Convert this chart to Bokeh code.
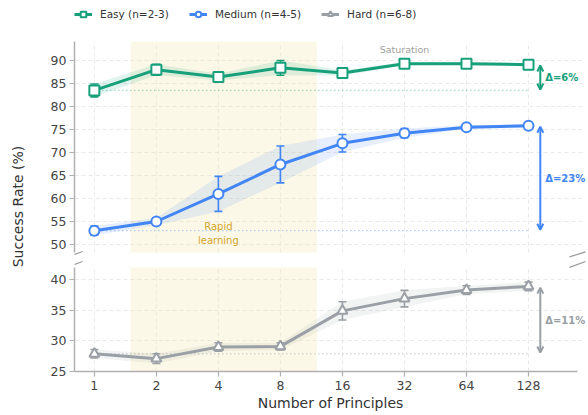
from bokeh.plotting import figure
from bokeh.models import (Range1d, FixedTicker, Legend, LegendItem, Label, Arrow,
                          OpenHead, BoxAnnotation)
from bokeh.layouts import row, column
from bokeh.embed import file_html
from bokeh.resources import INLINE

# ---------------- data ----------------
principles = [1, 2, 4, 8, 16, 32, 64, 128]
tick_labels = ["1", "2", "4", "8", "16", "32", "64", "128"]

easy = [83.5, 88.0, 86.4, 88.4, 87.3, 89.3, 89.3, 89.1]
easy_err = [1.4, 1.2, 0.7, 1.6, 0.6, 0.3, 0.3, 0.3]
medium = [53.0, 55.0, 61.0, 67.4, 72.0, 74.2, 75.5, 75.8]
medium_err = [1.0, 0.8, 3.8, 4.0, 1.9, 1.0, 0.4, 0.4]
hard = [27.9, 27.1, 29.0, 29.1, 34.9, 36.9, 38.3, 38.9]
hard_err = [0.7, 0.8, 0.7, 0.6, 1.5, 1.35, 0.7, 0.7]

series_names = ["Easy (n=2-3)", "Medium (n=4-5)", "Hard (n=6-8)"]
top_ticks = [50, 55, 60, 65, 70, 75, 80, 85, 90]
bottom_ticks = [25, 30, 35, 40]
rapid_span = (1.5, 12)

# ---------------- style ----------------
GREEN = "#17a07a"
BLUE = "#4285f4"
GRAY = "#9aa0a6"
GOLD = "#d4a52b"
FONT = "DejaVu Sans"
AXIS_C = "#b0b0b0"

X_LO, X_HI, X_AXIS_HI = 2 ** -0.32, 2 ** 7.935, 2 ** 7.79
x_range = Range1d(X_LO, X_HI)
W = 549
LBL_W = 37
LEG_H = 41
TOP_H = 218
BOT_H = 154
BORDER_L = 37

TOP_BOUNDS = (48.26, 94.13)     # visible part of the upper axis
TOP_VIEW = (46.74, 94.13)       # frame reaches into the break gap
BOT_BOUNDS = (25, 42)
BOT_VIEW = (25, 43.29)


def style(p, yticks, bounds):
    p.outline_line_color = None
    p.yaxis.ticker = FixedTicker(ticks=yticks)
    p.yaxis.bounds = bounds
    p.yaxis.axis_line_color = AXIS_C
    p.yaxis.axis_line_width = 1.5
    p.yaxis.major_tick_line_color = AXIS_C
    p.yaxis.major_tick_line_width = 1.2
    p.yaxis.major_tick_out = 5
    p.yaxis.major_tick_in = 0
    p.yaxis.minor_tick_line_color = None
    p.yaxis.major_label_text_font = FONT
    p.yaxis.major_label_text_font_size = "12.5px"
    p.yaxis.major_label_text_color = "#444444"
    p.yaxis.major_label_standoff = 3
    p.ygrid.ticker = FixedTicker(ticks=yticks)
    p.ygrid.grid_line_color = "#e3e3e3"
    p.ygrid.grid_line_dash = "4 3"
    p.ygrid.grid_line_width = 0.8
    p.xgrid.visible = False
    n = len(principles)
    # vertical grid lines, limited to the visible axis span
    p.segment(x0=principles, y0=[bounds[0]] * n, x1=principles, y1=[bounds[1]] * n,
              line_color="#e3e3e3", line_dash="4 3", line_width=0.8, level="underlay")
    p.add_layout(BoxAnnotation(left=rapid_span[0], right=rapid_span[1],
                               bottom=bounds[0], top=bounds[1],
                               fill_color="#f5e9b0", fill_alpha=0.3,
                               line_color=None, level="underlay"))


def draw_series(p, ys, errs, color, marker):
    lo = [y - e for y, e in zip(ys, errs)]
    hi = [y + e for y, e in zip(ys, errs)]
    p.varea(x=principles, y1=lo, y2=hi, fill_color=color, fill_alpha=0.13)
    p.line([principles[0], principles[-1]], [ys[0], ys[0]], line_color=color,
           line_dash="1 3", line_width=1.3, line_alpha=0.6)
    p.segment(x0=principles, y0=lo, x1=principles, y1=hi, line_color=color,
              line_width=1.6)
    p.scatter(x=principles + principles, y=lo + hi, marker="dash", size=8,
              line_color=color, line_width=1.6)
    p.line(principles, ys, line_color=color, line_width=3)
    p.scatter(principles, ys, marker=marker, size=10, line_color=color,
              line_width=2, fill_color="white")


def delta_arrow(p, ys, color):
    ax = 2 ** 7.19
    p.add_layout(Arrow(start=OpenHead(size=6, line_color=color, line_width=2),
                       end=OpenHead(size=6, line_color=color, line_width=2),
                       x_start=ax, y_start=ys[-1] - 0.2, x_end=ax, y_end=ys[0] + 0.2,
                       line_color=color, line_width=2))
    p.add_layout(Label(x=2 ** 7.27, y=(ys[-1] + ys[0]) / 2,
                       text="Δ=%d%%" % round(ys[-1] - ys[0]),
                       text_font=FONT, text_font_size="10px", text_font_style="bold",
                       text_color=color, text_align="left", text_baseline="middle"))


# ---------------- legend strip ----------------
leg = figure(width=W, height=LEG_H, x_range=Range1d(0, 1), y_range=Range1d(0, 1),
             x_axis_location=None, y_axis_location=None, toolbar_location=None,
             output_backend="svg", min_border_left=BORDER_L, min_border_right=0,
             min_border_top=0, min_border_bottom=0, outline_line_color=None)
leg.grid.visible = False
items = []
for name, color, marker in zip(series_names, [GREEN, BLUE, GRAY],
                               ["square", "circle", "triangle"]):
    ln = leg.line([-5, -4], [-5, -5], line_color=color, line_width=3)
    mk = leg.scatter([-5], [-5], marker=marker, size=10, line_color=color,
                     line_width=2, fill_color="white")
    items.append(LegendItem(label=name, renderers=[ln, mk]))
legend = Legend(items=items, orientation="horizontal", location=(0, 20),
                padding=0, margin=0, spacing=20, glyph_width=18, glyph_height=14,
                label_height=14, label_standoff=8, border_line_color=None,
                background_fill_alpha=0, label_text_font=FONT,
                label_text_font_size="10.5px", label_text_color="#333333")
leg.add_layout(legend)

# ---------------- top panel ----------------
top = figure(width=W, height=TOP_H, x_range=x_range, y_range=Range1d(*TOP_VIEW),
             x_axis_type="log", x_axis_location=None, toolbar_location=None,
             output_backend="svg", min_border_top=0, min_border_bottom=0,
             min_border_left=BORDER_L, min_border_right=0)
style(top, top_ticks, TOP_BOUNDS)
draw_series(top, easy, easy_err, GREEN, "square")
draw_series(top, medium, medium_err, BLUE, "circle")
delta_arrow(top, easy, GREEN)
delta_arrow(top, medium, BLUE)
top.add_layout(Label(x=principles[2], y=52.4, text="Rapid\nlearning", text_font=FONT,
                     text_font_size="10px", text_color=GOLD, text_align="center",
                     text_baseline="middle"))
top.add_layout(Label(x=principles[5], y=92.4, text="Saturation", text_font=FONT,
                     text_font_size="9.5px", text_color="#a0a0a0", text_align="center",
                     text_baseline="middle"))

# ---------------- bottom panel ----------------
bot = figure(width=W, height=BOT_H, x_range=x_range, y_range=Range1d(*BOT_VIEW),
             x_axis_type="log", toolbar_location=None, output_backend="svg",
             min_border_top=0, min_border_bottom=41, min_border_left=BORDER_L,
             min_border_right=0)
style(bot, bottom_ticks, BOT_BOUNDS)
draw_series(bot, hard, hard_err, GRAY, "triangle")
delta_arrow(bot, hard, GRAY)
bot.xaxis.ticker = FixedTicker(ticks=principles)
bot.xaxis.bounds = (X_LO, X_AXIS_HI)
bot.xaxis.major_label_overrides = {t: l for t, l in zip(principles, tick_labels)}
bot.xaxis.axis_line_color = AXIS_C
bot.xaxis.axis_line_width = 1.5
bot.xaxis.major_tick_line_color = AXIS_C
bot.xaxis.major_tick_line_width = 1.2
bot.xaxis.major_tick_out = 5
bot.xaxis.major_tick_in = 0
bot.xaxis.minor_tick_line_color = None
bot.xaxis.major_label_text_font = FONT
bot.xaxis.major_label_text_font_size = "12.5px"
bot.xaxis.major_label_text_color = "#444444"
bot.xaxis.major_label_standoff = 4
bot.xaxis.axis_label = "Number of Principles"
bot.xaxis.axis_label_text_font = FONT
bot.xaxis.axis_label_text_font_size = "14px"
bot.xaxis.axis_label_text_font_style = "normal"
bot.xaxis.axis_label_text_color = "#333333"
bot.xaxis.axis_label_standoff = 2


# ---------------- axis-break marks ----------------
def brk(p, x0, y0, x1, y1):
    p.add_layout(Arrow(start=None, end=None, x_start=x0, y_start=y0, x_end=x1,
                       y_end=y1, line_color="#9a9a9a", line_width=1.2))


xl0, xl1 = 2 ** -0.45, 2 ** -0.19
xr0, xr1 = 2 ** 7.66, 2 ** 7.92
brk(top, xl0, 47.17, xl1, 48.48)
brk(top, xr0, 47.3, xr1, 48.4)
brk(bot, xl0, 42.0, xl1, 42.97)
brk(bot, xr0, 42.0, xr1, 42.97)

# ---------------- y label ----------------
TOT_H = LEG_H + TOP_H + BOT_H
lab = figure(width=LBL_W, height=TOT_H, x_range=Range1d(0, LBL_W),
             y_range=Range1d(0, TOT_H), toolbar_location=None,
             output_backend="svg", min_border=0, outline_line_color=None,
             x_axis_location=None, y_axis_location=None)
lab.grid.visible = False
lab.add_layout(Label(x=17, y=TOT_H - 206, text="Success Rate (%)", angle=90,
                     angle_units="deg", text_font=FONT, text_font_size="14px",
                     text_color="#333333", text_align="center", text_baseline="middle"))

layout = row(lab, column(leg, top, bot))
open("out.html", "w").write(file_html(layout, INLINE))
